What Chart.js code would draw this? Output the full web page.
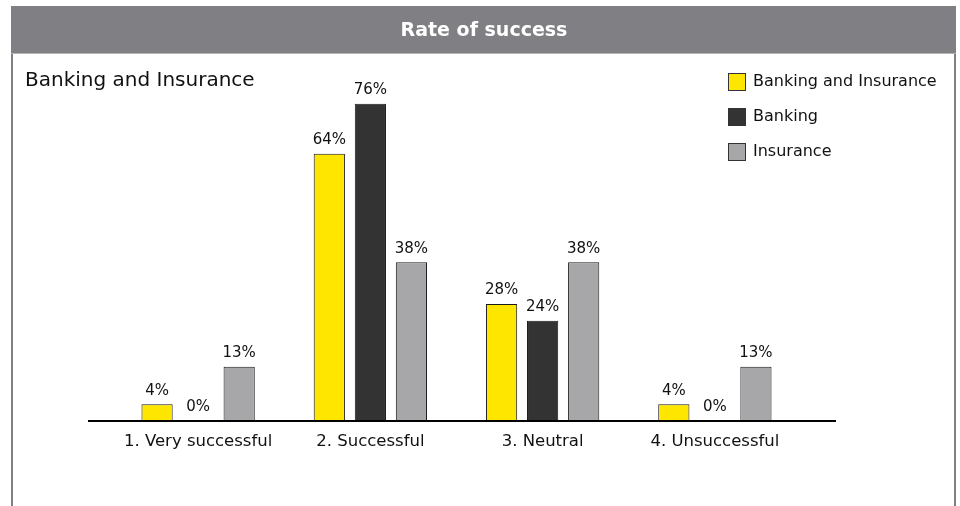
<!DOCTYPE html>
<html>
<head>
<meta charset="utf-8">
<script src="https://cdn.jsdelivr.net/npm/chart.js@4"></script>
<style>
  html, body { margin: 0; padding: 0; background: #fff; }
  #wrap { width: 960px; height: 506px; position: relative; }
</style>
</head>
<body>
<div id="wrap"><canvas id="myChart" width="960" height="506"></canvas></div>
<script>
//////////// Data ////////////
const categories = ['1. Very successful', '2. Successful', '3. Neutral', '4. Unsuccessful'];
const seriesNames = ['Banking and Insurance', 'Banking', 'Insurance'];
const bankingAndInsurance = [4, 64, 28, 4];
const banking = [0, 76, 24, 0];
const insurance = [13, 38, 38, 13];
const chartTitle = 'Rate of success';
const chartSubtitle = 'Banking and Insurance';

const FONT = '"DejaVu Sans", sans-serif';
const HEADER_GREY = '#807f84';

//////////// Header, frame, subtitle, legend, labels ////////////
const decorations = {
  id: 'decorations',
  beforeDraw(chart) {
    const { ctx } = chart;
    ctx.save();
    // frame
    ctx.fillStyle = HEADER_GREY;
    ctx.fillRect(11, 6, 945, 48);
    ctx.fillStyle = '#b4b4b6';
    ctx.fillRect(11, 53, 945, 1);
    ctx.fillStyle = HEADER_GREY;
    ctx.fillRect(11, 54, 2, 452);
    ctx.fillRect(954, 54, 2, 452);
    // title
    ctx.fillStyle = '#ffffff';
    ctx.font = 'bold 19px ' + FONT;
    ctx.textAlign = 'center';
    ctx.textBaseline = 'middle';
    ctx.fillText(chartTitle, 484, 31);
    // subtitle
    ctx.fillStyle = '#111';
    ctx.font = '20px ' + FONT;
    ctx.textAlign = 'left';
    ctx.fillText(chartSubtitle, 25, 81);
    ctx.restore();
  },
  afterDatasetsDraw(chart) {
    const { ctx, scales: { x, y } } = chart;
    ctx.save();
    // axis line
    ctx.fillStyle = '#000';
    ctx.fillRect(88, Math.round(y.getPixelForValue(0)) - 1, 748, 2);
    // value labels
    ctx.fillStyle = '#111';
    ctx.font = '15px ' + FONT;
    ctx.textAlign = 'center';
    ctx.textBaseline = 'bottom';
    chart.data.datasets.forEach((ds, i) => {
      chart.getDatasetMeta(i).data.forEach((bar, j) => {
        ctx.fillText(ds.data[j] + '%', bar.x, bar.y - 6);
      });
    });
    // legend
    ctx.font = '16px ' + FONT;
    ctx.textAlign = 'left';
    ctx.textBaseline = 'middle';
    chart.data.datasets.forEach((ds, i) => {
      const cy = 82 + i * 35;
      ctx.fillStyle = ds.backgroundColor;
      ctx.fillRect(728, cy - 9, 18, 18);
      ctx.strokeStyle = '#333';
      ctx.lineWidth = 1;
      ctx.strokeRect(728.5, cy - 8.5, 17, 17);
      ctx.fillStyle = '#111';
      ctx.fillText(ds.label, 753, cy);
    });
    ctx.restore();
  }
};

//////////// Chart ////////////
const ctx1 = document.getElementById('myChart').getContext('2d');
const colours = ['#ffe600', '#333333', '#a7a7aa'];
const values = [bankingAndInsurance, banking, insurance];

new Chart(ctx1, {
  type: 'bar',
  data: {
    labels: categories,
    datasets: seriesNames.map((name, i) => ({
      label: name,
      data: values[i],
      backgroundColor: colours[i],
      borderColor: '#1a1a1a',
      borderWidth: 1,
      borderSkipped: 'bottom',
      categoryPercentage: 0.715,
      barPercentage: 0.76
    }))
  },
  options: {
    responsive: false,
    animation: false,
    layout: { padding: { left: 112, right: 159, top: 87, bottom: 45 } },
    plugins: { legend: { display: false }, tooltip: { enabled: false } },
    scales: {
      x: {
        grid: { display: false, drawTicks: false },
        border: { display: false },
        ticks: { color: '#111', font: { family: FONT, size: 16.5 }, padding: 11 },
        afterFit(scale) { scale.height = 40; }
      },
      y: { display: false, min: 0, max: 80 }
    }
  },
  plugins: [decorations]
});
</script>
</body>
</html>
